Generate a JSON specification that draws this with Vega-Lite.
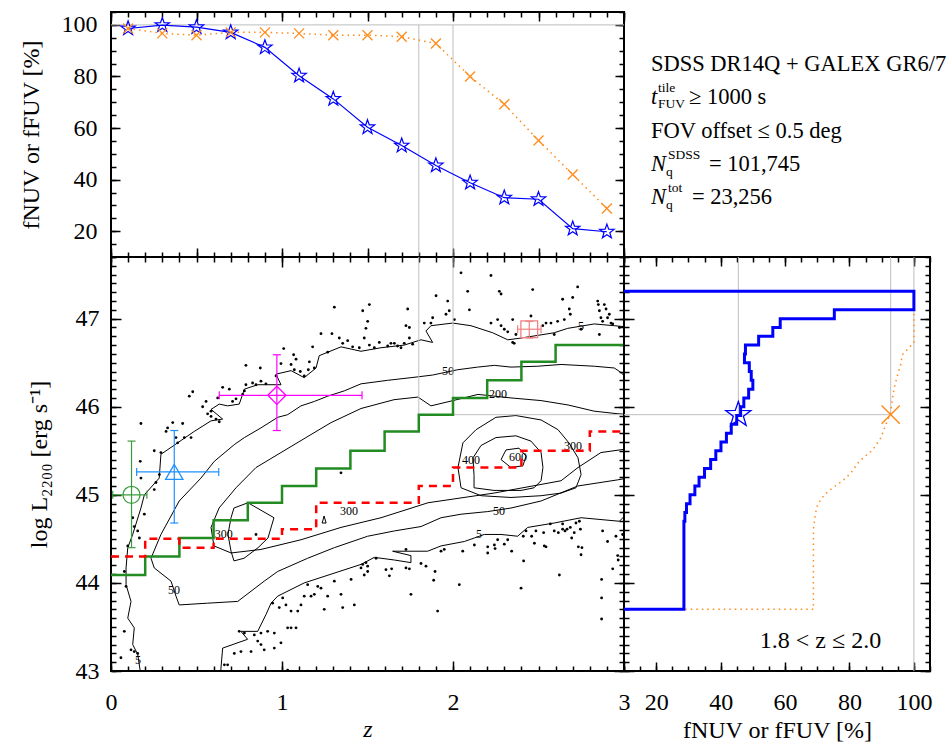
{
 "$schema": "https://vega.github.io/schema/vega-lite/v6.json",
 "background": "white",
 "padding": {"left": 18, "top": 10, "right": 5, "bottom": 5},
 "config": {
  "font": "Liberation Serif",
  "view": {"stroke": "black", "strokeWidth": 2},
  "axis": {"domain": false, "grid": false, "labelFont": "Liberation Serif", "labelFontSize": 24, "labelColor": "black", "titleFont": "Liberation Serif", "titleFontSize": 24, "titleFontWeight": "normal", "titleColor": "black", "tickColor": "black", "tickWidth": 1.5, "labelOverlap": false, "labelFlush": false}
 },
 "datasets": {
  "topf": [
   {"band":"NUV","z":0.1,"f":98.6},{"band":"NUV","z":0.3,"f":99.9},{"band":"NUV","z":0.5,"f":99.1},{"band":"NUV","z":0.7,"f":97.1},{"band":"NUV","z":0.9,"f":91.3},{"band":"NUV","z":1.1,"f":80.3},{"band":"NUV","z":1.3,"f":71.3},{"band":"NUV","z":1.5,"f":60.3},{"band":"NUV","z":1.7,"f":53.2},{"band":"NUV","z":1.9,"f":45.5},{"band":"NUV","z":2.1,"f":38.8},{"band":"NUV","z":2.3,"f":33.0},{"band":"NUV","z":2.5,"f":32.4},{"band":"NUV","z":2.7,"f":21.0},{"band":"NUV","z":2.9,"f":19.8},
   {"band":"FUV","z":0.1,"f":98.6},{"band":"FUV","z":0.3,"f":96.7},{"band":"FUV","z":0.5,"f":96.0},{"band":"FUV","z":0.7,"f":97.1},{"band":"FUV","z":0.9,"f":97.1},{"band":"FUV","z":1.1,"f":96.7},{"band":"FUV","z":1.3,"f":96.0},{"band":"FUV","z":1.5,"f":96.0},{"band":"FUV","z":1.7,"f":95.4},{"band":"FUV","z":1.9,"f":92.8},{"band":"FUV","z":2.1,"f":80.0},{"band":"FUV","z":2.3,"f":69.2},{"band":"FUV","z":2.5,"f":55.2},{"band":"FUV","z":2.7,"f":42.0},{"band":"FUV","z":2.9,"f":28.8}
  ],
  "info": [
   {"line":1,"role":"plain","text":"SDSS DR14Q + GALEX GR6/7"},
   {"line":2,"role":"ital","text":"t"},
   {"line":2,"role":"sup2","text":"tile"},
   {"line":2,"role":"sub2","text":"FUV"},
   {"line":2,"role":"rest2","text":"≥ 1000 s"},
   {"line":3,"role":"plain","text":"FOV offset ≤ 0.5 deg"},
   {"line":4,"role":"ital","text":"N"},
   {"line":4,"role":"supN","text":"SDSS"},
   {"line":4,"role":"subN","text":"q"},
   {"line":4,"role":"rest4","text":"= 101,745"},
   {"line":5,"role":"ital","text":"N"},
   {"line":5,"role":"supN","text":"tot"},
   {"line":5,"role":"subN","text":"q"},
   {"line":5,"role":"rest5","text":"= 23,256"}
  ],
  "cont": [
   {"c":"5a","i":1,"z":0.175,"L":42.95},{"c":"5a","i":2,"z":0.156,"L":43.19},{"c":"5a","i":3,"z":0.127,"L":43.30},{"c":"5a","i":4,"z":0.136,"L":43.49},{"c":"5a","i":5,"z":0.098,"L":43.60},{"c":"5a","i":6,"z":0.117,"L":43.79},{"c":"5a","i":7,"z":0.088,"L":43.98},{"c":"5a","i":8,"z":0.088,"L":44.17},{"c":"5a","i":9,"z":0.098,"L":44.40},{"c":"5a","i":10,"z":0.127,"L":44.55},{"c":"5a","i":11,"z":0.175,"L":44.85},{"c":"5a","i":12,"z":0.195,"L":45.00},{"c":"5a","i":13,"z":0.282,"L":45.19},{"c":"5a","i":14,"z":0.292,"L":45.46},{"c":"5a","i":15,"z":0.487,"L":45.72},{"c":"5a","i":16,"z":0.585,"L":45.84},{"c":"5a","i":17,"z":0.653,"L":45.86},{"c":"5a","i":18,"z":0.585,"L":45.97},{"c":"5a","i":19,"z":0.633,"L":46.03},{"c":"5a","i":20,"z":0.682,"L":46.01},{"c":"5a","i":21,"z":0.750,"L":46.03},{"c":"5a","i":22,"z":0.780,"L":46.20},{"c":"5a","i":23,"z":0.858,"L":46.25},{"c":"5a","i":24,"z":0.994,"L":46.25},{"c":"5a","i":25,"z":0.965,"L":46.37},{"c":"5a","i":26,"z":1.053,"L":46.41},{"c":"5a","i":27,"z":1.130,"L":46.33},{"c":"5a","i":28,"z":1.199,"L":46.44},{"c":"5a","i":29,"z":1.218,"L":46.58},{"c":"5a","i":30,"z":1.345,"L":46.68},{"c":"5a","i":31,"z":1.462,"L":46.63},{"c":"5a","i":32,"z":1.579,"L":46.67},{"c":"5a","i":33,"z":1.715,"L":46.70},{"c":"5a","i":34,"z":1.813,"L":46.76},{"c":"5a","i":35,"z":1.881,"L":46.73},{"c":"5a","i":36,"z":1.842,"L":46.86},{"c":"5a","i":37,"z":1.871,"L":46.92},{"c":"5a","i":38,"z":1.998,"L":46.95},{"c":"5a","i":39,"z":2.105,"L":46.92},{"c":"5a","i":40,"z":2.232,"L":46.84},{"c":"5a","i":41,"z":2.320,"L":46.76},{"c":"5a","i":42,"z":2.398,"L":46.78},{"c":"5a","i":43,"z":2.495,"L":46.81},{"c":"5a","i":44,"z":2.592,"L":46.84},{"c":"5a","i":45,"z":2.671,"L":46.89},{"c":"5a","i":46,"z":2.826,"L":46.94},{"c":"5a","i":47,"z":2.943,"L":46.92},{"c":"5a","i":48,"z":3.05,"L":46.90},
   {"c":"5b","i":1,"z":3.05,"L":44.85},{"c":"5b","i":2,"z":2.973,"L":44.70},{"c":"5b","i":3,"z":2.749,"L":44.74},{"c":"5b","i":4,"z":2.592,"L":44.68},{"c":"5b","i":5,"z":2.437,"L":44.63},{"c":"5b","i":6,"z":2.378,"L":44.53},{"c":"5b","i":7,"z":2.281,"L":44.55},{"c":"5b","i":8,"z":2.183,"L":44.55},{"c":"5b","i":9,"z":2.125,"L":44.51},{"c":"5b","i":10,"z":2.066,"L":44.47},{"c":"5b","i":11,"z":1.930,"L":44.42},{"c":"5b","i":12,"z":1.852,"L":44.36},{"c":"5b","i":13,"z":1.754,"L":44.36},{"c":"5b","i":14,"z":1.647,"L":44.36},{"c":"5b","i":15,"z":1.754,"L":44.31},{"c":"5b","i":16,"z":1.754,"L":44.23},{"c":"5b","i":17,"z":1.657,"L":44.26},{"c":"5b","i":18,"z":1.540,"L":44.29},{"c":"5b","i":19,"z":1.462,"L":44.21},{"c":"5b","i":20,"z":1.130,"L":44.00},{"c":"5b","i":21,"z":0.975,"L":43.85},{"c":"5b","i":22,"z":0.936,"L":43.77},{"c":"5b","i":23,"z":0.906,"L":43.64},{"c":"5b","i":24,"z":0.858,"L":43.45},{"c":"5b","i":25,"z":0.760,"L":43.45},{"c":"5b","i":26,"z":0.799,"L":43.36},{"c":"5b","i":27,"z":0.653,"L":43.26},{"c":"5b","i":28,"z":0.643,"L":43.03},{"c":"5b","i":29,"z":0.640,"L":42.90},
   {"c":"50","i":1,"z":3.05,"L":46.25},{"c":"50","i":2,"z":2.982,"L":46.39},{"c":"50","i":3,"z":2.943,"L":46.44},{"c":"50","i":4,"z":2.826,"L":46.46},{"c":"50","i":5,"z":2.632,"L":46.48},{"c":"50","i":6,"z":2.495,"L":46.46},{"c":"50","i":7,"z":2.339,"L":46.45},{"c":"50","i":8,"z":2.242,"L":46.47},{"c":"50","i":9,"z":2.144,"L":46.45},{"c":"50","i":10,"z":2.027,"L":46.42},{"c":"50","i":11,"z":1.881,"L":46.36},{"c":"50","i":12,"z":1.754,"L":46.33},{"c":"50","i":13,"z":1.618,"L":46.30},{"c":"50","i":14,"z":1.462,"L":46.26},{"c":"50","i":15,"z":1.364,"L":46.18},{"c":"50","i":16,"z":1.267,"L":46.12},{"c":"50","i":17,"z":1.189,"L":46.06},{"c":"50","i":18,"z":1.111,"L":46.01},{"c":"50","i":19,"z":1.033,"L":45.91},{"c":"50","i":20,"z":0.975,"L":45.88},{"c":"50","i":21,"z":0.877,"L":45.76},{"c":"50","i":22,"z":0.780,"L":45.65},{"c":"50","i":23,"z":0.721,"L":45.57},{"c":"50","i":24,"z":0.604,"L":45.38},{"c":"50","i":25,"z":0.526,"L":45.19},{"c":"50","i":26,"z":0.399,"L":44.93},{"c":"50","i":27,"z":0.292,"L":44.55},{"c":"50","i":28,"z":0.234,"L":44.28},{"c":"50","i":29,"z":0.253,"L":44.17},{"c":"50","i":30,"z":0.351,"L":44.02},{"c":"50","i":31,"z":0.380,"L":43.85},{"c":"50","i":32,"z":0.399,"L":43.75},{"c":"50","i":33,"z":0.565,"L":43.77},{"c":"50","i":34,"z":0.741,"L":43.79},{"c":"50","i":35,"z":0.896,"L":44.02},{"c":"50","i":36,"z":0.975,"L":44.13},{"c":"50","i":37,"z":1.150,"L":44.28},{"c":"50","i":38,"z":1.306,"L":44.40},{"c":"50","i":39,"z":1.501,"L":44.53},{"c":"50","i":40,"z":1.657,"L":44.59},{"c":"50","i":41,"z":1.813,"L":44.64},{"c":"50","i":42,"z":1.930,"L":44.74},{"c":"50","i":43,"z":2.047,"L":44.78},{"c":"50","i":44,"z":2.203,"L":44.81},{"c":"50","i":45,"z":2.339,"L":44.85},{"c":"50","i":46,"z":2.515,"L":44.93},{"c":"50","i":47,"z":2.729,"L":45.10},{"c":"50","i":48,"z":2.963,"L":45.17},{"c":"50","i":49,"z":3.05,"L":45.20},
   {"c":"200","i":1,"z":3.05,"L":45.91},{"c":"200","i":2,"z":2.965,"L":45.92},{"c":"200","i":3,"z":2.825,"L":45.95},{"c":"200","i":4,"z":2.673,"L":46.02},{"c":"200","i":5,"z":2.515,"L":46.07},{"c":"200","i":6,"z":2.339,"L":46.10},{"c":"200","i":7,"z":2.146,"L":46.14},{"c":"200","i":8,"z":2.0,"L":46.07},{"c":"200","i":9,"z":1.871,"L":46.01},{"c":"200","i":10,"z":1.795,"L":46.11},{"c":"200","i":11,"z":1.655,"L":46.08},{"c":"200","i":12,"z":1.462,"L":45.98},{"c":"200","i":13,"z":1.287,"L":45.82},{"c":"200","i":14,"z":1.140,"L":45.65},{"c":"200","i":15,"z":0.994,"L":45.48},{"c":"200","i":16,"z":0.848,"L":45.31},{"c":"200","i":17,"z":0.731,"L":45.08},{"c":"200","i":18,"z":0.632,"L":44.85},{"c":"200","i":19,"z":0.585,"L":44.63},{"c":"200","i":20,"z":0.602,"L":44.42},{"c":"200","i":21,"z":0.702,"L":44.34},{"c":"200","i":22,"z":0.877,"L":44.38},{"c":"200","i":23,"z":1.111,"L":44.49},{"c":"200","i":24,"z":1.345,"L":44.63},{"c":"200","i":25,"z":1.579,"L":44.74},{"c":"200","i":26,"z":1.854,"L":44.91},{"c":"200","i":27,"z":2.240,"L":45.02},{"c":"200","i":28,"z":2.632,"L":45.16},{"c":"200","i":29,"z":2.731,"L":45.31},{"c":"200","i":30,"z":2.865,"L":45.48},{"c":"200","i":31,"z":3.05,"L":45.53},
   {"c":"300a","i":1,"z":0.801,"L":44.91},{"c":"300a","i":2,"z":0.953,"L":44.74},{"c":"300a","i":3,"z":0.918,"L":44.51},{"c":"300a","i":4,"z":0.860,"L":44.40},{"c":"300a","i":5,"z":0.778,"L":44.28},{"c":"300a","i":6,"z":0.719,"L":44.25},{"c":"300a","i":7,"z":0.702,"L":44.36},{"c":"300a","i":8,"z":0.684,"L":44.55},{"c":"300a","i":9,"z":0.702,"L":44.74},{"c":"300a","i":10,"z":0.719,"L":44.85},{"c":"300a","i":11,"z":0.801,"L":44.91},
   {"c":"300b","i":1,"z":2.047,"L":45.08},{"c":"300b","i":2,"z":2.029,"L":45.31},{"c":"300b","i":3,"z":2.058,"L":45.59},{"c":"300b","i":4,"z":2.135,"L":45.74},{"c":"300b","i":5,"z":2.251,"L":45.88},{"c":"300b","i":6,"z":2.368,"L":45.90},{"c":"300b","i":7,"z":2.515,"L":45.85},{"c":"300b","i":8,"z":2.614,"L":45.74},{"c":"300b","i":9,"z":2.678,"L":45.59},{"c":"300b","i":10,"z":2.731,"L":45.42},{"c":"300b","i":11,"z":2.749,"L":45.23},{"c":"300b","i":12,"z":2.719,"L":45.08},{"c":"300b","i":13,"z":2.632,"L":45.02},{"c":"300b","i":14,"z":2.515,"L":44.99},{"c":"300b","i":15,"z":2.339,"L":44.97},{"c":"300b","i":16,"z":2.164,"L":44.99},{"c":"300b","i":17,"z":2.047,"L":45.08},
   {"c":"400","i":1,"z":2.123,"L":45.22},{"c":"400","i":2,"z":2.117,"L":45.42},{"c":"400","i":3,"z":2.164,"L":45.56},{"c":"400","i":4,"z":2.251,"L":45.65},{"c":"400","i":5,"z":2.368,"L":45.67},{"c":"400","i":6,"z":2.456,"L":45.61},{"c":"400","i":7,"z":2.515,"L":45.48},{"c":"400","i":8,"z":2.526,"L":45.31},{"c":"400","i":9,"z":2.515,"L":45.16},{"c":"400","i":10,"z":2.474,"L":45.08},{"c":"400","i":11,"z":2.398,"L":45.05},{"c":"400","i":12,"z":2.240,"L":45.05},{"c":"400","i":13,"z":2.123,"L":45.08},{"c":"400","i":14,"z":2.123,"L":45.22},
   {"c":"600","i":1,"z":2.281,"L":45.40},{"c":"600","i":2,"z":2.310,"L":45.51},{"c":"600","i":3,"z":2.386,"L":45.53},{"c":"600","i":4,"z":2.427,"L":45.44},{"c":"600","i":5,"z":2.409,"L":45.33},{"c":"600","i":6,"z":2.339,"L":45.31},{"c":"600","i":7,"z":2.281,"L":45.40},
   {"c":"tri","i":1,"z":1.235,"L":44.68},{"c":"tri","i":2,"z":1.258,"L":44.68},{"c":"tri","i":3,"z":1.246,"L":44.76},{"c":"tri","i":4,"z":1.235,"L":44.68}
  ],
  "clab": [
   {"z":0.158,"L":43.12,"t":"5"},{"z":2.749,"L":46.92,"t":"5"},{"z":2.152,"L":44.55,"t":"5"},
   {"z":1.971,"L":46.41,"t":"50"},{"z":2.269,"L":44.82,"t":"50"},{"z":0.368,"L":43.92,"t":"50"},
   {"z":2.263,"L":46.14,"t":"200"},{"z":1.392,"L":44.82,"t":"300"},{"z":2.702,"L":45.55,"t":"300"},
   {"z":2.105,"L":45.39,"t":"400"},{"z":2.38,"L":45.43,"t":"600"},{"z":0.66,"L":44.55,"t":"300"}
  ],
  "dots": [
   {"z":0.175,"L":45.81},{"z":0.331,"L":45.76},{"z":0.361,"L":45.82},{"z":0.419,"L":45.81},{"z":0.322,"L":45.72},{"z":0.380,"L":45.65},{"z":0.390,"L":45.59},{"z":0.429,"L":45.65},{"z":0.468,"L":45.65},{"z":0.253,"L":45.50},{"z":0.171,"L":45.38},{"z":0.292,"L":45.48},{"z":0.458,"L":46.12},{"z":0.478,"L":46.17},{"z":0.536,"L":46.0},{"z":0.556,"L":46.06},{"z":0.565,"L":45.92},{"z":0.585,"L":45.95},{"z":0.585,"L":45.89},{"z":0.614,"L":45.86},{"z":0.633,"L":45.83},{"z":0.624,"L":46.10},{"z":0.653,"L":46.22},{"z":0.692,"L":46.20},{"z":0.711,"L":46.06},{"z":0.731,"L":46.09},{"z":0.770,"L":46.14},{"z":0.780,"L":46.18},{"z":0.789,"L":46.25},{"z":0.828,"L":46.27},{"z":0.848,"L":46.25},{"z":0.877,"L":46.29},{"z":0.906,"L":46.26},{"z":0.789,"L":46.47},{"z":0.873,"L":46.44},{"z":0.965,"L":46.35},{"z":0.994,"L":46.49},{"z":1.010,"L":46.66},{"z":1.068,"L":46.59},{"z":1.082,"L":46.54},{"z":1.053,"L":46.48},{"z":1.072,"L":46.42},{"z":1.107,"L":46.40},{"z":1.130,"L":46.35},{"z":1.154,"L":46.42},{"z":1.160,"L":46.51},{"z":1.179,"L":46.68},{"z":1.189,"L":46.44},{"z":1.228,"L":46.83},{"z":1.267,"L":46.62},{"z":1.292,"L":46.83},{"z":1.306,"L":47.13},{"z":1.335,"L":46.78},{"z":1.355,"L":46.72},{"z":1.384,"L":46.75},{"z":1.413,"L":46.68},{"z":1.452,"L":46.67},{"z":1.472,"L":47.09},{"z":1.481,"L":46.78},{"z":1.491,"L":46.89},{"z":1.501,"L":46.97},{"z":1.511,"L":46.70},
   {"z":1.511,"L":47.16},{"z":1.540,"L":46.67},{"z":1.569,"L":46.73},{"z":1.618,"L":46.69},{"z":1.637,"L":46.72},{"z":1.657,"L":46.72},{"z":1.676,"L":46.69},{"z":1.696,"L":46.67},{"z":1.715,"L":46.72},{"z":1.735,"L":47.11},{"z":1.745,"L":46.90},{"z":1.725,"L":46.92},{"z":1.745,"L":46.78},{"z":1.764,"L":46.71},{"z":1.832,"L":46.95},{"z":1.871,"L":46.95},{"z":1.881,"L":47.01},{"z":1.901,"L":47.26},{"z":1.959,"L":47.05},{"z":1.969,"L":47.20},{"z":1.978,"L":47.09},{"z":2.008,"L":46.99},{"z":2.047,"L":47.52},{"z":2.086,"L":47.31},{"z":2.096,"L":47.10},{"z":2.222,"L":47.49},{"z":2.222,"L":46.95},{"z":2.261,"L":46.99},{"z":2.271,"L":47.31},{"z":2.281,"L":47.28},{"z":2.281,"L":46.92},{"z":2.300,"L":46.88},{"z":2.320,"L":46.85},{"z":2.349,"L":46.99},{"z":2.349,"L":46.73},{"z":2.358,"L":46.72},{"z":2.368,"L":46.82},{"z":2.456,"L":47.03},{"z":2.466,"L":47.33},{"z":2.525,"L":46.92},{"z":2.544,"L":46.95},{"z":2.573,"L":46.95},{"z":2.592,"L":46.82},{"z":2.612,"L":46.97},{"z":2.641,"L":47.22},{"z":2.651,"L":46.99},{"z":2.680,"L":47.11},{"z":2.686,"L":47.05},{"z":2.700,"L":47.24},{"z":2.729,"L":47.36},{"z":2.749,"L":46.88},{"z":2.846,"L":47.20},{"z":2.850,"L":47.16},{"z":2.856,"L":47.09},{"z":2.865,"L":47.01},{"z":2.885,"L":47.16},{"z":2.895,"L":47.11},{"z":2.904,"L":47.01},{"z":2.914,"L":47.05},{"z":2.924,"L":46.95},{"z":2.934,"L":46.94},{"z":2.856,"L":46.82},{"z":2.875,"L":46.97},{"z":2.973,"L":46.90},
   {"z":1.472,"L":44.21},{"z":1.481,"L":44.09},{"z":1.501,"L":44.19},{"z":1.550,"L":44.28},{"z":1.608,"L":44.15},{"z":1.628,"L":44.08},{"z":1.641,"L":44.16},{"z":1.725,"L":44.17},{"z":1.745,"L":44.16},{"z":1.754,"L":43.87},{"z":1.725,"L":44.38},{"z":1.813,"L":44.22},{"z":1.842,"L":44.19},{"z":1.887,"L":44.03},{"z":1.895,"L":44.13},{"z":1.910,"L":43.68},{"z":1.930,"L":44.36},{"z":1.949,"L":44.38},{"z":2.037,"L":43.98},{"z":2.057,"L":44.36},{"z":2.125,"L":44.43},{"z":2.203,"L":44.41},{"z":2.203,"L":44.34},{"z":2.242,"L":44.43},{"z":2.246,"L":44.39},{"z":2.261,"L":44.49},{"z":2.300,"L":44.44},{"z":2.320,"L":44.49},{"z":2.343,"L":44.36},{"z":2.398,"L":43.94},{"z":2.413,"L":44.25},{"z":2.411,"L":44.53},{"z":2.427,"L":44.59},{"z":2.460,"L":44.53},{"z":2.476,"L":44.45},{"z":2.485,"L":44.59},{"z":2.530,"L":44.57},{"z":2.534,"L":44.42},{"z":2.544,"L":44.41},{"z":2.569,"L":44.67},{"z":2.592,"L":44.59},{"z":2.616,"L":44.57},{"z":2.622,"L":44.09},{"z":2.641,"L":44.61},{"z":2.641,"L":44.67},{"z":2.655,"L":44.59},{"z":2.667,"L":44.61},{"z":2.686,"L":44.63},{"z":2.694,"L":44.51},{"z":2.709,"L":44.57},{"z":2.719,"L":44.68},{"z":2.733,"L":44.41},{"z":2.739,"L":44.70},{"z":2.745,"L":44.61},{"z":2.749,"L":44.32},{"z":2.754,"L":44.40},{"z":2.875,"L":44.59},{"z":2.904,"L":44.47},{"z":2.934,"L":44.16},{"z":2.869,"L":44.04},{"z":2.869,"L":43.83},{"z":2.869,"L":43.59},{"z":2.953,"L":44.53},{"z":2.963,"L":44.31},{"z":2.966,"L":44.26},{"z":2.992,"L":44.55},
   {"z":0.175,"L":45.19},{"z":0.283,"L":45.23},{"z":0.263,"L":45.14},{"z":0.253,"L":45.06},{"z":0.127,"L":44.74},{"z":0.136,"L":44.64},{"z":0.156,"L":44.59},{"z":0.166,"L":44.51},{"z":0.098,"L":44.42},{"z":0.078,"L":44.13},{"z":0.088,"L":43.96},{"z":0.078,"L":43.45},{"z":0.117,"L":43.24},{"z":0.136,"L":43.22},{"z":0.156,"L":43.20},{"z":0.058,"L":43.15},{"z":0.195,"L":44.78},
   {"z":0.848,"L":44.55},{"z":1.345,"L":45.25},{"z":0.750,"L":43.45},{"z":0.780,"L":43.43},{"z":0.838,"L":43.41},{"z":0.877,"L":43.43},{"z":0.916,"L":43.45},{"z":0.955,"L":43.43},{"z":0.877,"L":43.30},{"z":0.896,"L":43.24},{"z":0.819,"L":43.22},{"z":0.760,"L":43.22},{"z":0.721,"L":43.20},{"z":0.682,"L":43.07},{"z":0.663,"L":43.07},{"z":0.858,"L":43.34},{"z":0.955,"L":43.26},{"z":0.994,"L":43.32},{"z":1.033,"L":43.49},{"z":1.053,"L":43.49},{"z":1.082,"L":43.49},{"z":0.945,"L":43.77},{"z":0.984,"L":43.72},{"z":1.004,"L":43.83},{"z":1.023,"L":43.75},{"z":1.053,"L":43.68},{"z":1.092,"L":43.68},{"z":1.130,"L":43.85},{"z":1.150,"L":43.98},{"z":1.170,"L":43.85},{"z":1.189,"L":43.87},{"z":1.209,"L":43.96},{"z":1.228,"L":43.94},{"z":1.247,"L":43.70},{"z":1.267,"L":43.85},{"z":1.306,"L":44.02},{"z":1.345,"L":43.87},{"z":1.355,"L":43.72},{"z":1.423,"L":43.75},{"z":1.462,"L":44.17},{"z":1.491,"L":44.23},{"z":1.501,"L":44.13},{"z":1.404,"L":44.04},{"z":1.111,"L":43.75},{"z":1.033,"L":43.01}
  ],
  "green": [
   {"z":0,"L":44.09},{"z":0.2,"L":44.30},{"z":0.4,"L":44.51},{"z":0.6,"L":44.71},{"z":0.8,"L":44.91},{"z":1.0,"L":45.10},{"z":1.2,"L":45.30},{"z":1.4,"L":45.50},{"z":1.6,"L":45.72},{"z":1.8,"L":45.91},{"z":2.0,"L":46.10},{"z":2.2,"L":46.30},{"z":2.4,"L":46.51},{"z":2.6,"L":46.70},{"z":3.0,"L":46.70}
  ],
  "red": [
   {"z":0,"L":44.30},{"z":0.2,"L":44.50},{"z":0.4,"L":44.40},{"z":0.6,"L":44.50},{"z":0.8,"L":44.50},{"z":1.0,"L":44.61},{"z":1.2,"L":44.91},{"z":1.4,"L":44.91},{"z":1.6,"L":44.91},{"z":1.8,"L":45.10},{"z":2.0,"L":45.31},{"z":2.2,"L":45.31},{"z":2.4,"L":45.50},{"z":2.6,"L":45.50},{"z":2.8,"L":45.72},{"z":3.0,"L":45.72}
  ],
  "eb": [
   {"name":"g","z":0.12,"L":45.0,"zlo":0.01,"zhi":0.21,"Llo":44.40,"Lhi":45.61},
   {"name":"b","z":0.37,"L":45.26,"zlo":0.15,"zhi":0.63,"Llo":44.68,"Lhi":45.73},
   {"name":"m","z":0.97,"L":46.13,"zlo":0.633,"zhi":1.468,"Llo":45.73,"Lhi":46.59},
   {"name":"p","z":2.446,"L":46.88,"zlo":2.378,"zhi":2.515,"Llo":46.78,"Lhi":46.97}
  ],
  "brNUV": [
   {"i":0,"f":0,"L":43.7},{"i":1,"f":28.6,"L":43.7},{"i":2,"f":28.9,"L":44.7},{"i":3,"f":29.4,"L":44.8},{"i":4,"f":30.5,"L":44.9},{"i":5,"f":32.0,"L":45.0},{"i":6,"f":33.3,"L":45.1},{"i":7,"f":35.0,"L":45.2},{"i":8,"f":36.9,"L":45.3},{"i":9,"f":38.5,"L":45.4},{"i":10,"f":40.1,"L":45.5},{"i":11,"f":41.8,"L":45.6},{"i":12,"f":43.3,"L":45.7},{"i":13,"f":45.0,"L":45.8},{"i":14,"f":46.2,"L":45.9},{"i":15,"f":47.2,"L":46.0},{"i":16,"f":48.7,"L":46.1},{"i":17,"f":50.0,"L":46.2},{"i":18,"f":49.5,"L":46.3},{"i":19,"f":48.9,"L":46.4},{"i":20,"f":47.4,"L":46.5},{"i":21,"f":47.7,"L":46.6},{"i":22,"f":51.8,"L":46.7},{"i":23,"f":56.2,"L":46.8},{"i":24,"f":58.5,"L":46.9},{"i":25,"f":75.3,"L":47.0},{"i":26,"f":100,"L":47.1},{"i":27,"f":100,"L":47.31},{"i":28,"f":0,"L":47.31}
  ],
  "brFUV": [
   {"i":0,"f":0,"L":43.70},{"i":1,"f":68.8,"L":43.70},{"i":2,"f":68.8,"L":44.61},{"i":3,"f":69.4,"L":44.78},{"i":4,"f":70.1,"L":44.89},{"i":5,"f":72.2,"L":45.00},{"i":6,"f":74.8,"L":45.08},{"i":7,"f":77.9,"L":45.16},{"i":8,"f":80.5,"L":45.25},{"i":9,"f":83.0,"L":45.38},{"i":10,"f":87.2,"L":45.51},{"i":11,"f":89.8,"L":45.65},{"i":12,"f":91.3,"L":45.80},{"i":13,"f":92.6,"L":45.91},{"i":14,"f":93.4,"L":46.10},{"i":15,"f":93.9,"L":46.22},{"i":16,"f":95.0,"L":46.37},{"i":17,"f":95.9,"L":46.48},{"i":18,"f":96.4,"L":46.59},{"i":19,"f":98.5,"L":46.67},{"i":20,"f":100,"L":46.73},{"i":21,"f":100,"L":47.31},{"i":22,"f":0,"L":47.31}
  ],
  "brmark": [
   {"band":"NUV","f":45.5,"L":45.91},{"band":"FUV","f":92.8,"L":45.91}
  ],
  "brvr": [
   {"f":100,"L0":43,"L1":47.7},{"f":45.5,"L0":45.91,"L1":47.7},{"f":92.8,"L0":45.91,"L1":47.7}
  ],
  "brhr": [
   {"f0":10,"f1":92.8,"L":45.91}
  ]
 },
 "columns": 2,
 "spacing": 0,
 "bounds": "flush",
 "align": "each",
 "concat": [
  {
   "width": 513, "height": 245,
   "resolve": {"axis": {"x": "independent", "y": "independent"}},
   "layer": [
    {"data": {"values": [{"z": 1.8}, {"z": 2.0}]},
     "mark": {"type": "rule", "color": "#bebebe", "strokeWidth": 1},
     "encoding": {"x": {"field": "z", "type": "quantitative", "scale": {"domain": [0, 3], "nice": false, "zero": false}, "axis": null}, "y": {"datum": 10, "type": "quantitative", "scale": {"domain": [10, 105], "nice": false, "zero": false}, "axis": null}, "y2": {"datum": 100}}},
    {"data": {"values": [{"f": 100}]},
     "mark": {"type": "rule", "color": "#bebebe", "strokeWidth": 1},
     "encoding": {"x": {"datum": 0, "type": "quantitative", "axis": null}, "x2": {"datum": 3}, "y": {"field": "f", "type": "quantitative", "axis": null}}},
    {"data": {"name": "topf"}, "transform": [{"filter": "datum.band === 'NUV'"}],
     "mark": {"type": "line", "color": "#0000ff", "strokeWidth": 1.2},
     "encoding": {
      "x": {"field": "z", "type": "quantitative", "axis": {"orient": "bottom", "values": [0, 0.5, 1, 1.5, 2, 2.5, 3], "labels": false, "tickSize": -9, "title": null}},
      "y": {"field": "f", "type": "quantitative", "axis": {"orient": "left", "values": [20, 40, 60, 80, 100], "tickSize": -9, "labelPadding": 23, "title": "fNUV  or  fFUV [%]", "titlePadding": 18}}}},
    {"data": {"name": "topf"}, "transform": [{"filter": "datum.band === 'NUV'"}],
     "mark": {"type": "point", "shape": "M0,-1L0.235,-0.324L0.951,-0.309L0.38,0.124L0.588,0.809L0,0.4L-0.588,0.809L-0.38,0.124L-0.951,-0.309L-0.235,-0.324Z", "filled": false, "color": "#0000ff", "strokeWidth": 1.2, "size": 230, "opacity": 1},
     "encoding": {
      "x": {"field": "z", "type": "quantitative", "axis": {"orient": "top", "values": [0, 0.5, 1, 1.5, 2, 2.5, 3], "labels": false, "tickSize": -9, "title": null}},
      "y": {"field": "f", "type": "quantitative", "axis": {"orient": "right", "values": [20, 40, 60, 80, 100], "labels": false, "tickSize": -9, "title": null}}}},
    {"data": {"name": "topf"}, "transform": [{"filter": "datum.band === 'FUV'"}],
     "mark": {"type": "line", "color": "#ff8c1a", "strokeWidth": 1.5, "strokeDash": [1.5, 4]},
     "encoding": {
      "x": {"field": "z", "type": "quantitative", "axis": {"orient": "bottom", "values": [0,0.1,0.2,0.3,0.4,0.5,0.6,0.7,0.8,0.9,1,1.1,1.2,1.3,1.4,1.5,1.6,1.7,1.8,1.9,2,2.1,2.2,2.3,2.4,2.5,2.6,2.7,2.8,2.9,3], "labels": false, "tickSize": -5, "title": null}},
      "y": {"field": "f", "type": "quantitative", "axis": {"orient": "left", "values": [10,15,20,25,30,35,40,45,50,55,60,65,70,75,80,85,90,95,100,105], "labels": false, "tickSize": -5, "title": null}}}},
    {"data": {"name": "topf"}, "transform": [{"filter": "datum.band === 'FUV'"}],
     "mark": {"type": "point", "shape": "M-1,-1L1,1M-1,1L1,-1", "filled": false, "color": "#ff8c1a", "strokeWidth": 1.3, "size": 100, "opacity": 1},
     "encoding": {
      "x": {"field": "z", "type": "quantitative", "axis": {"orient": "top", "values": [0,0.1,0.2,0.3,0.4,0.5,0.6,0.7,0.8,0.9,1,1.1,1.2,1.3,1.4,1.5,1.6,1.7,1.8,1.9,2,2.1,2.2,2.3,2.4,2.5,2.6,2.7,2.8,2.9,3], "labels": false, "tickSize": -5, "title": null}},
      "y": {"field": "f", "type": "quantitative", "axis": {"orient": "right", "values": [10,15,20,25,30,35,40,45,50,55,60,65,70,75,80,85,90,95,100,105], "labels": false, "tickSize": -5, "title": null}}}}
   ]
  },
  {
   "width": 306, "height": 245,
   "view": {"stroke": null},
   "data": {"name": "info"},
   "encoding": {
    "x": {"datum": 0.088, "type": "quantitative", "scale": {"domain": [0, 1]}, "axis": null},
    "y": {"field": "line", "type": "ordinal", "scale": {"type": "point", "domain": [1, 2, 3, 4, 5], "range": [52, 185], "padding": 0}, "axis": null},
    "text": {"field": "text", "type": "nominal"}
   },
   "layer": [
    {"transform": [{"filter": "datum.role === 'plain'"}], "mark": {"type": "text", "align": "left", "baseline": "middle", "fontSize": 22.5, "font": "Liberation Serif", "color": "black"}},
    {"transform": [{"filter": "datum.role === 'ital'"}], "mark": {"type": "text", "align": "left", "baseline": "middle", "fontSize": 22.5, "fontStyle": "italic", "font": "Liberation Serif", "color": "black"}},
    {"transform": [{"filter": "datum.role === 'sup2'"}], "mark": {"type": "text", "align": "left", "baseline": "middle", "fontSize": 13.5, "dx": 7, "dy": -9, "font": "Liberation Serif", "color": "black"}},
    {"transform": [{"filter": "datum.role === 'sub2'"}], "mark": {"type": "text", "align": "left", "baseline": "middle", "fontSize": 13.5, "dx": 7, "dy": 7, "font": "Liberation Serif", "color": "black"}},
    {"transform": [{"filter": "datum.role === 'rest2'"}], "mark": {"type": "text", "align": "left", "baseline": "middle", "fontSize": 22.5, "dx": 38, "font": "Liberation Serif", "color": "black"}},
    {"transform": [{"filter": "datum.role === 'supN'"}], "mark": {"type": "text", "align": "left", "baseline": "middle", "fontSize": 13.5, "dx": 17, "dy": -9, "font": "Liberation Serif", "color": "black"}},
    {"transform": [{"filter": "datum.role === 'subN'"}], "mark": {"type": "text", "align": "left", "baseline": "middle", "fontSize": 13.5, "dx": 15, "dy": 8, "font": "Liberation Serif", "color": "black"}},
    {"transform": [{"filter": "datum.role === 'rest4'"}], "mark": {"type": "text", "align": "left", "baseline": "middle", "fontSize": 22.5, "dx": 58, "font": "Liberation Serif", "color": "black"}},
    {"transform": [{"filter": "datum.role === 'rest5'"}], "mark": {"type": "text", "align": "left", "baseline": "middle", "fontSize": 22.5, "dx": 41, "font": "Liberation Serif", "color": "black"}}
   ]
  },
  {
   "width": 513, "height": 414,
   "resolve": {"axis": {"x": "independent", "y": "independent"}},
   "layer": [
    {"data": {"name": "cont"},
     "mark": {"type": "line", "color": "black", "strokeWidth": 1, "clip": true},
     "encoding": {
      "x": {"field": "z", "type": "quantitative", "scale": {"domain": [0, 3], "nice": false, "zero": false}, "axis": {"orient": "bottom", "values": [0, 1, 2, 3], "tickSize": -10, "labelPadding": 29, "title": "z", "titleFontStyle": "italic", "titlePadding": 3}},
      "y": {"field": "L", "type": "quantitative", "scale": {"domain": [43, 47.7], "nice": false, "zero": false}, "axis": {"orient": "left", "values": [43, 44, 45, 46, 47], "tickSize": -10, "labelPadding": 22, "title": "log L₂₂₀₀ [erg s⁻¹]", "titlePadding": 24}},
      "detail": {"field": "c", "type": "nominal"},
      "order": {"field": "i", "type": "quantitative"}}},
    {"data": {"name": "dots"},
     "mark": {"type": "point", "shape": "circle", "filled": true, "color": "black", "size": 8, "opacity": 1},
     "encoding": {
      "x": {"field": "z", "type": "quantitative", "axis": {"orient": "top", "values": [0, 1, 2, 3], "labels": false, "tickSize": -10, "title": null}},
      "y": {"field": "L", "type": "quantitative", "axis": {"orient": "right", "values": [43, 44, 45, 46, 47], "labels": false, "tickSize": -10, "title": null}}}},
    {"data": {"name": "clab"},
     "mark": {"type": "text", "fontSize": 12, "font": "Liberation Serif", "color": "black", "baseline": "middle"},
     "encoding": {"x": {"field": "z", "type": "quantitative", "axis": null}, "y": {"field": "L", "type": "quantitative", "axis": null}, "text": {"field": "t", "type": "nominal"}}},
    {"data": {"values": [{"z": 1.8}, {"z": 2.0}]},
     "mark": {"type": "rule", "color": "#bebebe", "strokeWidth": 1},
     "encoding": {"x": {"field": "z", "type": "quantitative", "axis": null}, "y": {"datum": 45.91, "type": "quantitative", "axis": null}, "y2": {"datum": 47.7}}},
    {"data": {"values": [{"L": 45.91}]},
     "mark": {"type": "rule", "color": "#bebebe", "strokeWidth": 1},
     "encoding": {"x": {"datum": 1.8, "type": "quantitative", "axis": null}, "x2": {"datum": 3}, "y": {"field": "L", "type": "quantitative", "axis": null}}},
    {"data": {"name": "green"},
     "mark": {"type": "line", "color": "#228b22", "strokeWidth": 2.5, "interpolate": "step-after"},
     "encoding": {
      "x": {"field": "z", "type": "quantitative", "axis": {"orient": "bottom", "values": [0,0.1,0.2,0.3,0.4,0.5,0.6,0.7,0.8,0.9,1,1.1,1.2,1.3,1.4,1.5,1.6,1.7,1.8,1.9,2,2.1,2.2,2.3,2.4,2.5,2.6,2.7,2.8,2.9,3], "labels": false, "tickSize": -5, "title": null}},
      "y": {"field": "L", "type": "quantitative", "axis": {"orient": "left", "values": [43,43.1,43.2,43.3,43.4,43.5,43.6,43.7,43.8,43.9,44,44.1,44.2,44.3,44.4,44.5,44.6,44.7,44.8,44.9,45,45.1,45.2,45.3,45.4,45.5,45.6,45.7,45.8,45.9,46,46.1,46.2,46.3,46.4,46.5,46.6,46.7,46.8,46.9,47,47.1,47.2,47.3,47.4,47.5,47.6,47.7], "labels": false, "tickSize": -5, "title": null}}}},
    {"data": {"name": "red"},
     "mark": {"type": "line", "color": "#ff0000", "strokeWidth": 2.5, "strokeDash": [8, 6], "interpolate": "step-after"},
     "encoding": {
      "x": {"field": "z", "type": "quantitative", "axis": {"orient": "top", "values": [0,0.1,0.2,0.3,0.4,0.5,0.6,0.7,0.8,0.9,1,1.1,1.2,1.3,1.4,1.5,1.6,1.7,1.8,1.9,2,2.1,2.2,2.3,2.4,2.5,2.6,2.7,2.8,2.9,3], "labels": false, "tickSize": -5, "title": null}},
      "y": {"field": "L", "type": "quantitative", "axis": {"orient": "right", "values": [43,43.1,43.2,43.3,43.4,43.5,43.6,43.7,43.8,43.9,44,44.1,44.2,44.3,44.4,44.5,44.6,44.7,44.8,44.9,45,45.1,45.2,45.3,45.4,45.5,45.6,45.7,45.8,45.9,46,46.1,46.2,46.3,46.4,46.5,46.6,46.7,46.8,46.9,47,47.1,47.2,47.3,47.4,47.5,47.6,47.7], "labels": false, "tickSize": -5, "title": null}}}},
    {"data": {"name": "eb"},
     "mark": {"type": "rule", "strokeWidth": 1.2},
     "encoding": {"x": {"field": "zlo", "type": "quantitative", "axis": null}, "x2": {"field": "zhi"}, "y": {"field": "L", "type": "quantitative", "axis": null},
      "color": {"field": "name", "type": "nominal", "scale": {"domain": ["g", "b", "m", "p"], "range": ["#3c9c3c", "#1e90ff", "#ff00ff", "#f08080"]}, "legend": null}}},
    {"data": {"name": "eb"},
     "mark": {"type": "rule", "strokeWidth": 1.2},
     "encoding": {"x": {"field": "z", "type": "quantitative", "axis": null}, "y": {"field": "Llo", "type": "quantitative", "axis": null}, "y2": {"field": "Lhi"},
      "color": {"field": "name", "type": "nominal", "legend": null}}},
    {"data": {"name": "eb"},
     "transform": [{"fold": ["zlo", "zhi"], "as": ["end", "zc"]}],
     "mark": {"type": "point", "shape": "M0,-1L0,1", "filled": false, "size": 64, "strokeWidth": 1.2, "opacity": 1},
     "encoding": {"x": {"field": "zc", "type": "quantitative", "axis": null}, "y": {"field": "L", "type": "quantitative", "axis": null},
      "color": {"field": "name", "type": "nominal", "legend": null}}},
    {"data": {"name": "eb"},
     "transform": [{"fold": ["Llo", "Lhi"], "as": ["end", "Lc"]}],
     "mark": {"type": "point", "shape": "M-1,0L1,0", "filled": false, "size": 64, "strokeWidth": 1.2, "opacity": 1},
     "encoding": {"x": {"field": "z", "type": "quantitative", "axis": null}, "y": {"field": "Lc", "type": "quantitative", "axis": null},
      "color": {"field": "name", "type": "nominal", "legend": null}}},
    {"data": {"name": "eb"}, "transform": [{"filter": "datum.name === 'g'"}],
     "mark": {"type": "point", "shape": "circle", "filled": false, "strokeWidth": 1.3, "size": 290, "opacity": 1, "color": "#3c9c3c"},
     "encoding": {"x": {"field": "z", "type": "quantitative", "axis": null}, "y": {"field": "L", "type": "quantitative", "axis": null}}},
    {"data": {"name": "eb"}, "transform": [{"filter": "datum.name === 'b'"}],
     "mark": {"type": "point", "shape": "triangle-up", "filled": false, "strokeWidth": 1.3, "size": 300, "opacity": 1, "color": "#1e90ff"},
     "encoding": {"x": {"field": "z", "type": "quantitative", "axis": null}, "y": {"field": "L", "type": "quantitative", "axis": null}}},
    {"data": {"name": "eb"}, "transform": [{"filter": "datum.name === 'm'"}],
     "mark": {"type": "point", "shape": "diamond", "filled": false, "strokeWidth": 1.3, "size": 330, "opacity": 1, "color": "#ff00ff"},
     "encoding": {"x": {"field": "z", "type": "quantitative", "axis": null}, "y": {"field": "L", "type": "quantitative", "axis": null}}},
    {"data": {"name": "eb"}, "transform": [{"filter": "datum.name === 'p'"}],
     "mark": {"type": "point", "shape": "square", "filled": false, "strokeWidth": 1.3, "size": 280, "opacity": 1, "color": "#f08080"},
     "encoding": {"x": {"field": "z", "type": "quantitative", "axis": null}, "y": {"field": "L", "type": "quantitative", "axis": null}}}
   ]
  },
  {
   "width": 306, "height": 414,
   "resolve": {"axis": {"x": "independent", "y": "independent"}},
   "layer": [
    {"data": {"name": "brvr"},
     "mark": {"type": "rule", "color": "#bebebe", "strokeWidth": 1},
     "encoding": {"x": {"field": "f", "type": "quantitative", "scale": {"domain": [10, 105], "nice": false, "zero": false}, "axis": null}, "y": {"field": "L0", "type": "quantitative", "scale": {"domain": [43, 47.7], "nice": false, "zero": false}, "axis": null}, "y2": {"field": "L1"}}},
    {"data": {"name": "brhr"},
     "mark": {"type": "rule", "color": "#bebebe", "strokeWidth": 1},
     "encoding": {"x": {"field": "f0", "type": "quantitative", "axis": null}, "x2": {"field": "f1"}, "y": {"field": "L", "type": "quantitative", "axis": null}}},
    {"data": {"name": "brFUV"},
     "mark": {"type": "line", "color": "#ff8c1a", "strokeWidth": 1.5, "strokeDash": [1.5, 4], "clip": true},
     "encoding": {
      "x": {"field": "f", "type": "quantitative", "axis": {"orient": "top", "values": [20, 40, 60, 80, 100], "labels": false, "tickSize": -9, "title": null}},
      "y": {"field": "L", "type": "quantitative", "axis": {"orient": "right", "values": [43, 44, 45, 46, 47], "labels": false, "tickSize": -10, "title": null}},
      "order": {"field": "i", "type": "quantitative"}}},
    {"data": {"name": "brNUV"},
     "mark": {"type": "line", "color": "#0000ff", "strokeWidth": 3, "interpolate": "step-before", "clip": true},
     "encoding": {
      "x": {"field": "f", "type": "quantitative", "axis": {"orient": "bottom", "values": [20, 40, 60, 80, 100], "tickSize": -9, "labelPadding": 28, "title": "fNUV  or  fFUV [%]", "titlePadding": 4}},
      "y": {"field": "L", "type": "quantitative", "axis": {"orient": "left", "values": [43, 44, 45, 46, 47], "labels": false, "tickSize": -10, "title": null}},
      "order": {"field": "i", "type": "quantitative"}}},
    {"data": {"name": "brmark"}, "transform": [{"filter": "datum.band === 'NUV'"}],
     "mark": {"type": "point", "shape": "M0,-1L0.235,-0.324L0.951,-0.309L0.38,0.124L0.588,0.809L0,0.4L-0.588,0.809L-0.38,0.124L-0.951,-0.309L-0.235,-0.324Z", "filled": false, "color": "#0000ff", "strokeWidth": 1.3, "size": 700, "opacity": 1},
     "encoding": {
      "x": {"field": "f", "type": "quantitative", "axis": {"orient": "bottom", "values": [10,15,20,25,30,35,40,45,50,55,60,65,70,75,80,85,90,95,100,105], "labels": false, "tickSize": -5, "title": null}},
      "y": {"field": "L", "type": "quantitative", "axis": {"orient": "left", "values": [43,43.1,43.2,43.3,43.4,43.5,43.6,43.7,43.8,43.9,44,44.1,44.2,44.3,44.4,44.5,44.6,44.7,44.8,44.9,45,45.1,45.2,45.3,45.4,45.5,45.6,45.7,45.8,45.9,46,46.1,46.2,46.3,46.4,46.5,46.6,46.7,46.8,46.9,47,47.1,47.2,47.3,47.4,47.5,47.6,47.7], "labels": false, "tickSize": -5, "title": null}}}},
    {"data": {"name": "brmark"}, "transform": [{"filter": "datum.band === 'FUV'"}],
     "mark": {"type": "point", "shape": "M-1,-1L1,1M-1,1L1,-1", "filled": false, "color": "#ff8c1a", "strokeWidth": 1.5, "size": 330, "opacity": 1},
     "encoding": {
      "x": {"field": "f", "type": "quantitative", "axis": {"orient": "top", "values": [10,15,20,25,30,35,40,45,50,55,60,65,70,75,80,85,90,95,100,105], "labels": false, "tickSize": -5, "title": null}},
      "y": {"field": "L", "type": "quantitative", "axis": {"orient": "right", "values": [43,43.1,43.2,43.3,43.4,43.5,43.6,43.7,43.8,43.9,44,44.1,44.2,44.3,44.4,44.5,44.6,44.7,44.8,44.9,45,45.1,45.2,45.3,45.4,45.5,45.6,45.7,45.8,45.9,46,46.1,46.2,46.3,46.4,46.5,46.6,46.7,46.8,46.9,47,47.1,47.2,47.3,47.4,47.5,47.6,47.7], "labels": false, "tickSize": -5, "title": null}}}},
    {"data": {"values": [{"f": 71, "L": 43.34, "t": "1.8 < z ≤ 2.0"}]},
     "mark": {"type": "text", "fontSize": 24, "font": "Liberation Serif", "color": "black", "align": "center", "baseline": "middle"},
     "encoding": {"x": {"field": "f", "type": "quantitative", "axis": null}, "y": {"field": "L", "type": "quantitative", "axis": null}, "text": {"field": "t", "type": "nominal"}}}
   ]
  }
 ]
}
